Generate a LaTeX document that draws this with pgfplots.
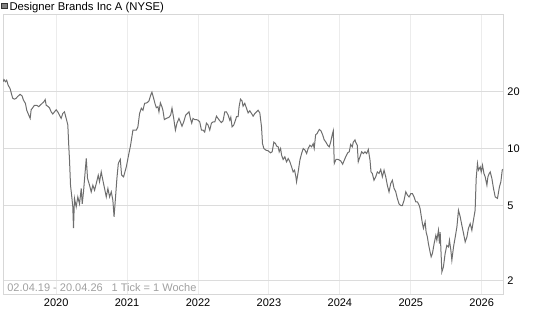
\documentclass[border=0pt]{standalone}
\usepackage{pgfplots}
\pgfplotsset{compat=1.18}
\usepackage{fontspec}
\setmainfont{Liberation Sans}
\definecolor{linecol}{RGB}{110,110,110}
\definecolor{hgrid}{RGB}{220,220,220}
\definecolor{vgrid}{RGB}{236,236,236}
\definecolor{framecol}{RGB}{215,215,215}
\definecolor{datecol}{RGB}{160,160,160}
\definecolor{legfill}{RGB}{128,128,128}
\definecolor{legborder}{RGB}{50,50,50}
\begin{document}
\begin{tikzpicture}[x=1pt,y=1pt]
\useasboundingbox (0,0) rectangle (545,327);
\begin{axis}[
  at={(3pt,32.7pt)}, anchor=south west,
  scale only axis, width=500pt, height=279.3pt,
  xmin=2019.25, xmax=2026.30,
  ymode=log, ymin=1.70, ymax=50.6,
  xtick={2020,2021,2022,2023,2024,2025,2026},
  xticklabels={2020,2021,2022,2023,2024,2025,2026},
  ytick={2,5,10,20},
  yticklabels={2,5,10,20},
  minor ytick={}, minor xtick={},
  yticklabel pos=right,
  major tick length=0pt,
  tick style={draw=none},
  xmajorgrids, ymajorgrids,
  major x grid style={draw=vgrid, line width=1pt},
  major y grid style={draw=hgrid, line width=1pt},
  axis line style={draw=framecol, line width=1pt},
  xticklabel style={font=\fontsize{11}{13}\selectfont, anchor=north, inner sep=0pt, yshift=-4.2pt},
  yticklabel style={font=\fontsize{11}{13}\selectfont, anchor=west, inner sep=0pt, xshift=4.2pt},
  clip=true,
]
\addplot[draw=linecol, line width=1pt, mark=none] coordinates {
(2019.250,22.5) (2019.263,23.1) (2019.284,22.5) (2019.302,22.9) (2019.322,21.6)
(2019.350,20.7) (2019.368,19.5) (2019.387,18.4) (2019.411,18.2) (2019.435,18.4)
(2019.457,18.8) (2019.491,19.3) (2019.520,18.9) (2019.538,18.0) (2019.566,17.3)
(2019.585,15.9) (2019.613,15.0) (2019.633,14.4) (2019.647,16.0) (2019.669,16.4)
(2019.693,16.9) (2019.726,16.9) (2019.754,16.6) (2019.774,16.9) (2019.802,17.3)
(2019.825,17.6) (2019.845,18.1) (2019.859,16.9) (2019.881,16.7) (2019.905,16.4)
(2019.929,15.6) (2019.952,15.2) (2019.976,15.6) (2020.000,16.0) (2020.022,15.6)
(2020.046,15.0) (2020.070,14.4) (2020.093,15.3) (2020.117,15.6) (2020.141,14.4)
(2020.164,13.3) (2020.178,10.2) (2020.188,8.67) (2020.202,6.40) (2020.220,5.55)
(2020.234,4.92) (2020.244,3.80)
(2020.258,5.45) (2020.282,4.92) (2020.305,5.55) (2020.329,5.10) (2020.353,6.15)
(2020.367,5.10) (2020.385,5.90) (2020.414,8.00) (2020.424,8.85) (2020.442,6.95)
(2020.470,6.40) (2020.494,5.90) (2020.517,6.40) (2020.541,6.02) (2020.565,6.53)
(2020.593,7.22) (2020.611,6.67) (2020.635,7.52) (2020.658,6.80) (2020.682,6.15)
(2020.706,5.55) (2020.729,6.15) (2020.753,5.55) (2020.777,5.90) (2020.799,5.33)
(2020.816,4.36) (2020.837,5.55) (2020.856,6.95) (2020.876,8.33) (2020.904,8.75)
(2020.922,7.24) (2020.950,7.08) (2020.989,8.00) (2021.025,9.40) (2021.049,10.4)
(2021.082,12.5) (2021.130,12.5) (2021.152,13.0) (2021.176,15.3) (2021.200,16.3)
(2021.223,15.9) (2021.247,17.3)
(2021.279,17.4) (2021.308,17.8) (2021.332,19.1) (2021.350,19.8) (2021.374,18.4)
(2021.392,17.3) (2021.412,16.4) (2021.435,16.6) (2021.449,15.6) (2021.469,17.4)
(2021.491,16.6) (2021.505,15.9) (2021.525,14.2) (2021.553,14.4) (2021.590,14.6)
(2021.614,15.0) (2021.633,16.3) (2021.657,14.4) (2021.681,12.5) (2021.703,13.6)
(2021.731,14.4) (2021.751,13.8) (2021.774,13.1) (2021.798,13.8) (2021.826,15.0)
(2021.850,15.3) (2021.873,15.6) (2021.892,14.4) (2021.911,13.6) (2021.929,14.4)
(2021.953,14.2) (2021.977,14.2) (2022.000,14.1) (2022.024,13.8) (2022.048,12.5)
(2022.070,12.5) (2022.094,12.2) (2022.118,13.6) (2022.141,13.3) (2022.165,12.5)
(2022.189,13.6) (2022.212,13.8) (2022.236,13.8) (2022.260,14.8) (2022.282,14.4)
(2022.306,14.0) (2022.330,13.7) (2022.353,14.0) (2022.377,15.6) (2022.401,15.6)
(2022.424,15.0) (2022.448,14.1) (2022.462,14.6) (2022.480,13.0) (2022.504,13.3)
(2022.528,14.1) (2022.542,14.7) (2022.565,14.7) (2022.579,16.6) (2022.599,18.2)
(2022.621,17.8) (2022.635,16.7) (2022.659,17.3) (2022.683,16.3) (2022.706,15.4)
(2022.730,15.8) (2022.754,15.3) (2022.777,14.8) (2022.801,15.3) (2022.825,15.6)
(2022.847,15.9) (2022.871,15.4) (2022.895,13.0) (2022.909,10.6) (2022.928,10.0)
(2022.956,9.80) (2022.988,9.72) (2023.022,9.48) (2023.045,9.60) (2023.069,10.8)
(2023.093,10.6) (2023.107,10.3) (2023.130,10.2) (2023.144,9.60) (2023.164,10.0)
(2023.178,9.22) (2023.200,8.75) (2023.224,9.03) (2023.248,8.50) (2023.271,8.85)
(2023.295,8.50) (2023.319,8.00) (2023.341,7.52) (2023.361,7.68) (2023.380,7.08)
(2023.389,6.67) (2023.412,7.52) (2023.436,8.67) (2023.460,9.40) (2023.483,10.0)
(2023.507,9.80) (2023.531,9.40) (2023.553,10.0) (2023.577,10.4) (2023.601,10.2)
(2023.624,10.6) (2023.638,10.0) (2023.658,11.8) (2023.680,12.0) (2023.709,12.6)
(2023.733,12.4) (2023.757,11.8) (2023.779,11.1) (2023.803,10.8) (2023.827,10.4)
(2023.850,10.2) (2023.870,10.8) (2023.892,11.8) (2023.907,12.4) (2023.921,8.33)
(2023.945,8.75) (2023.977,8.75) (2024.011,8.60) (2024.039,8.26) (2024.062,8.67)
(2024.086,9.10) (2024.110,9.48) (2024.132,9.60) (2024.152,10.5) (2024.175,10.2)
(2024.189,10.8) (2024.213,11.1)
(2024.222,10.8) (2024.245,10.4) (2024.259,8.50) (2024.283,9.03) (2024.307,9.60)
(2024.330,9.40) (2024.354,9.60) (2024.378,9.40) (2024.401,9.88) (2024.425,8.67)
(2024.439,7.52) (2024.457,7.38) (2024.481,6.80) (2024.505,7.08) (2024.528,7.52)
(2024.552,7.38) (2024.576,7.75) (2024.599,7.08) (2024.623,7.68) (2024.647,7.08)
(2024.669,6.40) (2024.693,5.90) (2024.717,6.53) (2024.740,6.80) (2024.764,6.15)
(2024.788,5.90) (2024.810,5.45) (2024.834,5.10) (2024.858,5.00) (2024.881,5.00)
(2024.905,5.33) (2024.929,5.90) (2024.952,5.67) (2024.976,5.55) (2025.000,5.78)
(2025.022,5.78) (2025.046,5.55) (2025.070,5.22) (2025.093,5.22) (2025.117,5.02)
(2025.131,4.82)
(2025.145,4.45) (2025.164,4.01) (2025.178,3.79) (2025.202,4.10) (2025.216,3.62)
(2025.234,3.41) (2025.248,3.15) (2025.272,2.84) (2025.287,2.68) (2025.305,2.79)
(2025.329,3.15) (2025.353,3.48) (2025.367,3.28) (2025.390,3.70) (2025.404,3.15)
(2025.414,3.62) (2025.438,2.23) (2025.460,2.37) (2025.484,2.79) (2025.508,3.08)
(2025.531,3.02) (2025.545,3.28) (2025.565,2.90) (2025.579,2.57) (2025.602,3.02)
(2025.626,3.40) (2025.650,3.85) (2025.672,4.72) (2025.696,4.37) (2025.720,3.93)
(2025.743,3.57) (2025.767,3.21) (2025.791,3.41) (2025.813,3.79) (2025.837,4.01)
(2025.861,3.70) (2025.883,4.18) (2025.907,4.72) (2025.922,6.95) (2025.940,8.33)
(2025.954,7.68) (2025.979,7.99) (2025.993,7.52) (2026.011,8.16) (2026.031,7.38)
(2026.049,7.08) (2026.073,6.40) (2026.087,7.08) (2026.106,7.38)
(2026.120,7.52) (2026.143,6.95) (2026.166,6.15) (2026.190,5.55) (2026.222,5.45)
(2026.250,6.28) (2026.270,6.67) (2026.289,7.68) (2026.299,7.77)
};
\node[anchor=base west, inner sep=0pt, text=datecol, font=\fontsize{11}{13}\selectfont]
  at (rel axis cs:0,0) [xshift=4.15pt, yshift=2.8pt] {02.04.19 - 20.04.26\hspace{9pt}1 Tick = 1 Woche};
\end{axis}
\filldraw[fill=legfill, draw=legborder, line width=0.8pt] (1.6,318.4) rectangle (7.2,324.0);
\node[anchor=base west, inner sep=0pt, font=\fontsize{11.3}{13}\selectfont] at (9.3,316) {Designer Brands Inc A (NYSE)};
\end{tikzpicture}
\end{document}
